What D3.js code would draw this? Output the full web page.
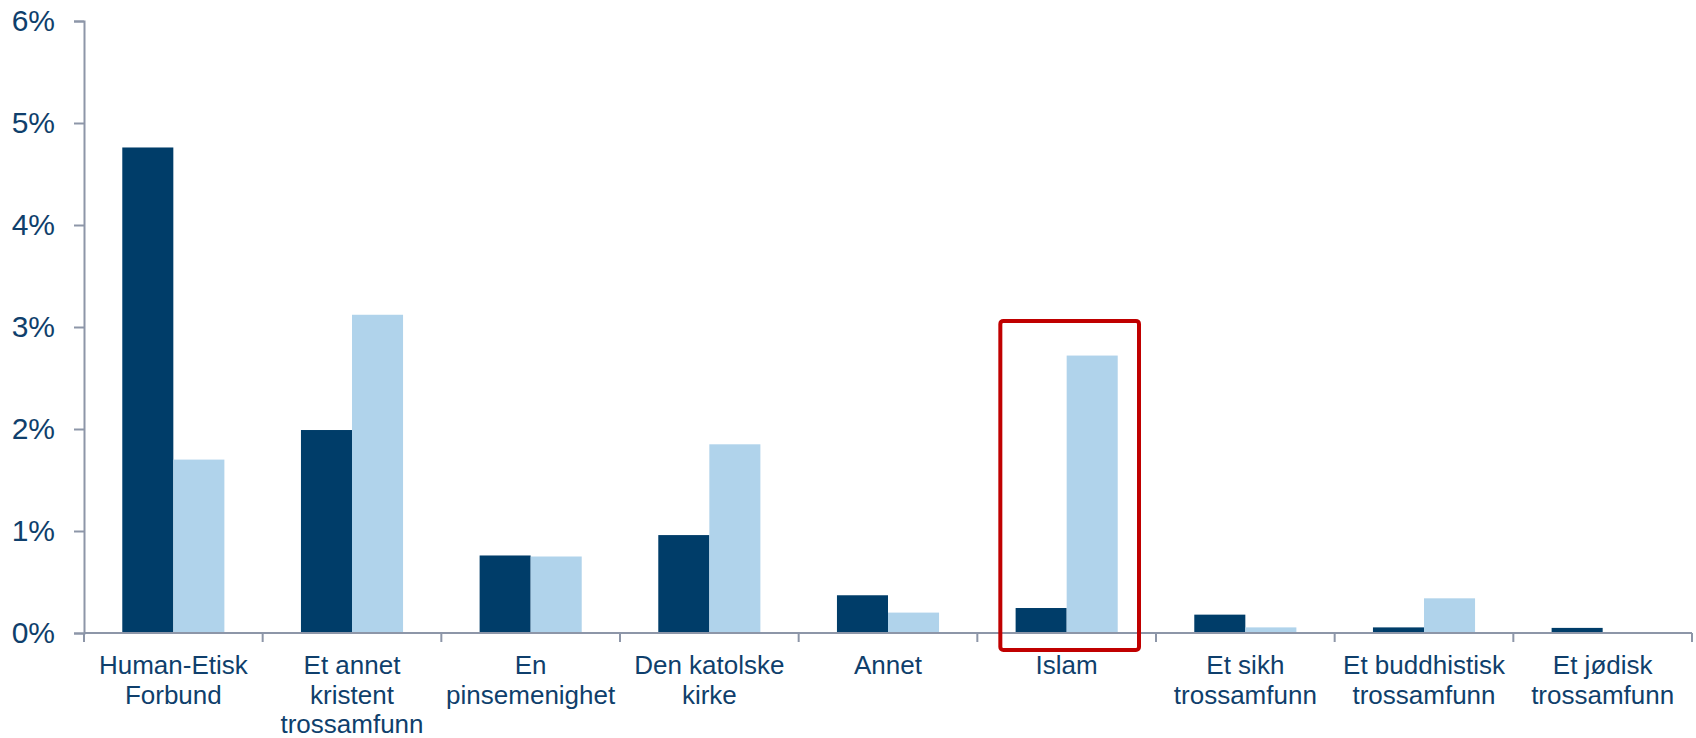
<!DOCTYPE html>
<html>
<head>
<meta charset="utf-8">
<script src="https://cdn.jsdelivr.net/npm/d3@7"></script>
<style>
  body { margin: 0; background: #fff; }
  text { font-family: "Liberation Sans", Arial, sans-serif; }
</style>
</head>
<body>
<div class="canvas"></div>
<script>
const categories = [
  'Human-Etisk Forbund', 'Et annet kristent trossamfunn', 'En pinsemenighet',
  'Den katolske kirke', 'Annet', 'Islam', 'Et sikh trossamfunn',
  'Et buddhistisk trossamfunn', 'Et jødisk trossamfunn'
]
const labelLines = [
  ['Human-Etisk', 'Forbund'],
  ['Et annet', 'kristent', 'trossamfunn'],
  ['En', 'pinsemenighet'],
  ['Den katolske', 'kirke'],
  ['Annet'],
  ['Islam'],
  ['Et sikh', 'trossamfunn'],
  ['Et buddhistisk', 'trossamfunn'],
  ['Et jødisk', 'trossamfunn']
]
const seriesA = [0.0476, 0.0199, 0.0076, 0.0096, 0.0037, 0.00245, 0.0018, 0.00055, 0.0005]
const seriesB = [0.0170, 0.0312, 0.0075, 0.0185, 0.0020, 0.0272, 0.00055, 0.0034, 0.0001]
const yTicks = [0, 0.01, 0.02, 0.03, 0.04, 0.05, 0.06]
const highlight = 'Islam'

const dims = { width: 1696, height: 738 }
const margin = { left: 84, right: 4, top: 21, bottom: 105 }

const svg = d3.select('.canvas')
  .append('svg')
  .attr('width', dims.width)
  .attr('height', dims.height)

const x0 = d3.scaleBand()
  .domain(categories)
  .range([margin.left, dims.width - margin.right])
  .padding(0)

const x1 = d3.scaleBand()
  .domain(['a', 'b'])
  .range([0, x0.bandwidth()])
  .paddingInner(0)
  .paddingOuter(0.75)

const y = d3.scaleLinear()
  .domain([0, 0.06])
  .range([dims.height - margin.bottom, margin.top])

const axisColor = '#8d96a8'
const textColor = '#0f3f6c'

// bars
const rows = categories.map((c, i) => ({ c, a: seriesA[i], b: seriesB[i] }))
const groups = svg.selectAll('.grp')
  .data(rows)
  .enter()
  .append('g')
    .attr('class', 'grp')
    .attr('transform', d => `translate(${x0(d.c)}, 0)`)

groups.append('rect')
  .attr('x', x1('a'))
  .attr('width', x1.bandwidth())
  .attr('y', d => y(d.a))
  .attr('height', d => y(0) - y(d.a))
  .attr('fill', '#003d69')

groups.append('rect')
  .attr('x', x1('b'))
  .attr('width', x1.bandwidth())
  .attr('y', d => y(d.b))
  .attr('height', d => y(0) - y(d.b))
  .attr('fill', '#b0d3eb')

// y axis
const yAxis = svg.append('g')
  .attr('transform', `translate(${margin.left}, 0)`)
  .call(d3.axisLeft(y).tickValues(yTicks).tickFormat(d3.format('.0%')).tickSize(10).tickPadding(19))
yAxis.select('.domain').attr('stroke', axisColor).attr('stroke-width', 2)
yAxis.selectAll('.tick line').attr('stroke', axisColor).attr('stroke-width', 2)
yAxis.selectAll('.tick text')
  .attr('fill', textColor)
  .style('font-size', '30px')

// x axis baseline and boundary ticks
const xr = x0.range()
svg.append('line')
  .attr('x1', xr[0]).attr('x2', xr[1])
  .attr('y1', y(0)).attr('y2', y(0))
  .attr('stroke', axisColor).attr('stroke-width', 2)

const edges = categories.map(c => x0(c)).concat([x0(categories[categories.length - 1]) + x0.bandwidth()])
svg.selectAll('.xtick')
  .data(edges)
  .enter()
  .append('line')
    .attr('class', 'xtick')
    .attr('x1', d => d).attr('x2', d => d)
    .attr('y1', y(0)).attr('y2', y(0) + 9)
    .attr('stroke', axisColor).attr('stroke-width', 2)

// category labels
const labels = svg.selectAll('.xlabel')
  .data(categories)
  .enter()
  .append('text')
    .attr('class', 'xlabel')
    .attr('text-anchor', 'middle')
    .attr('fill', textColor)
    .style('font-size', '26px')
    .attr('transform', d => `translate(${x0(d) + x0.bandwidth() / 2}, ${y(0) + 41})`)

labels.selectAll('tspan')
  .data((d, i) => labelLines[i])
  .enter()
  .append('tspan')
    .attr('x', 0)
    .attr('y', (d, i) => i * 29.5)
    .text(d => d)

// highlight box
svg.append('rect')
  .attr('x', x0(highlight) + 23)
  .attr('y', y(0.0306))
  .attr('width', x0.bandwidth() - 40)
  .attr('height', y(0) + 17 - y(0.0306))
  .attr('rx', 3)
  .attr('fill', 'none')
  .attr('stroke', '#c00000')
  .attr('stroke-width', 4)
</script>
</body>
</html>
